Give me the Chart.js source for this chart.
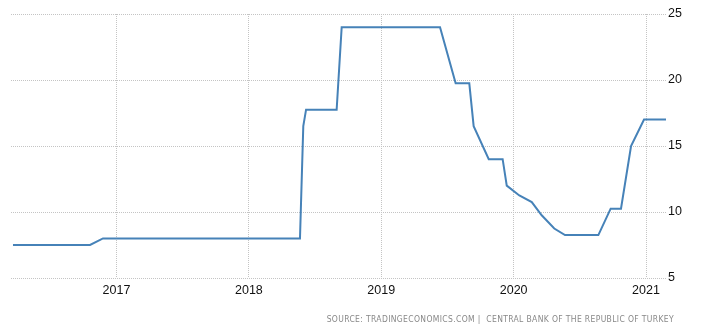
<!DOCTYPE html>
<html>
<head>
<meta charset="utf-8">
<script src="https://cdn.jsdelivr.net/npm/chart.js@4/dist/chart.umd.min.js"></script>
<style>
  body { margin: 0; background: #fff; }
  #wrap { position: relative; width: 710px; height: 327px; }
  #source {
    position: absolute; right: 36px; top: 314px;
    font: 8.5px "DejaVu Sans Condensed", "DejaVu Sans", sans-serif;
    letter-spacing: 0.35px; color: #888888; white-space: pre;
  }
</style>
</head>
<body>
<div id="wrap">
  <canvas id="chart" width="710" height="327"></canvas>
  <div id="source">SOURCE: TRADINGECONOMICS.COM |  CENTRAL BANK OF THE REPUBLIC OF TURKEY</div>
</div>
<script>
// policy rate steps, x as decimal year
var dates = [2016.218, 2016.80, 2016.898, 2018.386, 2018.411, 2018.432, 2018.663, 2018.701,
             2019.444, 2019.562, 2019.665, 2019.698, 2019.812, 2019.917, 2019.948, 2020.043,
             2020.137, 2020.212, 2020.307, 2020.388, 2020.640, 2020.733, 2020.811, 2020.887,
             2020.985, 2021.151];
var rates = [7.5, 7.5, 8, 8, 16.5, 17.75, 17.75, 24,
             24, 19.75, 19.75, 16.5, 14, 14, 12, 11.25,
             10.75, 9.75, 8.75, 8.25, 8.25, 10.25, 10.25, 15,
             17, 17];
var yearTicks = [2017, 2018, 2019, 2020, 2021];
var rateTicks = [5, 10, 15, 20, 25];

var points = [];
for (var i = 0; i < dates.length; i++) {
    points.push({x: dates[i], y: rates[i]});
}

var ctx = document.getElementById("chart").getContext("2d");
var gridStyle = {
    color: '#c4c4c4',
    lineWidth: 1,
    drawTicks: false
};

var chart = new Chart(ctx, {
    type: 'line',
    data: {
        datasets: [{
            data: points,
            borderColor: '#4682b8',
            borderWidth: 2,
            pointRadius: 0,
            tension: 0,
            fill: false
        }]
    },
    options: {
        responsive: false,
        animation: false,
        layout: {padding: {left: 11, top: 14, right: 0, bottom: 0}},
        plugins: {legend: {display: false}, tooltip: {enabled: false}},
        scales: {
            x: {
                type: 'linear',
                min: 2016.203,
                max: 2021.151,
                grid: gridStyle,
                border: {display: false, dash: [1, 1]},
                afterBuildTicks: function (scale) {
                    scale.ticks = yearTicks.map(function (v) { return {value: v}; });
                },
                afterFit: function (scale) { scale.height = 49; },
                ticks: {
                    padding: 5,
                    maxRotation: 0,
                    color: '#111',
                    font: {family: "'Liberation Sans Narrow', 'Liberation Sans', Arial", size: 12.5},
                    callback: function (v) { return String(v); }
                }
            },
            y: {
                position: 'right',
                min: 5,
                max: 25,
                grid: gridStyle,
                border: {display: false, dash: [1, 1]},
                afterBuildTicks: function (scale) {
                    scale.ticks = rateTicks.map(function (v) { return {value: v}; });
                },
                afterFit: function (scale) { scale.width = 44; },
                ticks: {
                    padding: 2,
                    color: '#111',
                    font: {family: "'Liberation Sans Narrow', 'Liberation Sans', Arial", size: 12.5}
                }
            }
        }
    }
});
</script>
</body>
</html>
